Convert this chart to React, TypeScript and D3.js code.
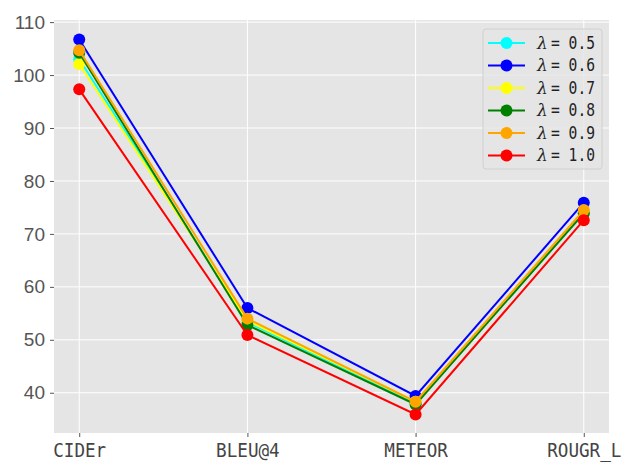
import React, { useEffect, useRef } from "react";
import * as d3 from "d3";

// metrics on the x axis
const metrics = ["CIDEr", "BLEU@4", "METEOR", "ROUGR_L"];

// one list of scores per lambda value
const lambdas = ["0.5", "0.6", "0.7", "0.8", "0.9", "1.0"];
const scores05 = [103.0, 53.3, 38.0, 74.0];
const scores06 = [106.7, 56.0, 39.4, 75.9];
const scores07 = [102.1, 53.6, 38.3, 74.2];
const scores08 = [104.2, 52.8, 37.8, 73.9];
const scores09 = [104.7, 54.0, 38.3, 74.5];
const scores10 = [97.3, 50.9, 35.9, 72.6];
const colors = ["#00ffff", "#0000ff", "#ffff00", "#008000", "#ffa500", "#ff0000"];

const yTicks = [40, 50, 60, 70, 80, 90, 100, 110];

const App = () => {
  const ref = useRef<SVGSVGElement>(null);

  useEffect(() => {
    const series = [scores05, scores06, scores07, scores08, scores09, scores10];
    const W = 627,
      H = 465;
    const margin = { top: 20, right: 18, bottom: 32, left: 54 };
    const width = W - margin.left - margin.right,
      height = H - margin.top - margin.bottom;

    const root = d3.select(ref.current);
    root.selectAll("*").remove();
    root.attr("width", W).attr("height", H);

    const svg = root
      .append("g")
      .attr("transform", `translate(${margin.left},${margin.top})`);

    // background
    svg
      .append("rect")
      .attr("width", width)
      .attr("height", height)
      .attr("fill", "#e5e5e5");

    // matplotlib-like 5% margin on each side
    const pad = (width * 0.05) / 1.1;
    const x = d3.scalePoint<string>().domain(metrics).range([pad, width - pad]);

    const y = d3.scaleLinear().domain([32.4, 110.4]).range([height, 0]);

    // grid
    svg
      .selectAll(".hgrid")
      .data(yTicks)
      .enter()
      .append("line")
      .attr("x1", 0)
      .attr("x2", width)
      .attr("y1", (d) => y(d))
      .attr("y2", (d) => y(d))
      .attr("stroke", "#fff")
      .attr("stroke-width", 1);
    svg
      .selectAll(".vgrid")
      .data(metrics)
      .enter()
      .append("line")
      .attr("x1", (d) => x(d)!)
      .attr("x2", (d) => x(d)!)
      .attr("y1", 0)
      .attr("y2", height)
      .attr("stroke", "#fff")
      .attr("stroke-width", 1);

    // axes
    const mono = "'DejaVu Sans Mono', monospace";
    const yAxis = svg
      .append("g")
      .call(d3.axisLeft(y).tickValues(yTicks).tickSize(4).tickPadding(5));
    yAxis.select(".domain").remove();
    yAxis.selectAll("line").attr("stroke", "#555");
    yAxis
      .selectAll("text")
      .attr("fill", "#555")
      .style("font-family", "'Liberation Sans', Arial, sans-serif")
      .style("font-size", "19px");

    const xAxis = svg
      .append("g")
      .attr("transform", `translate(0,${height})`)
      .call(d3.axisBottom(x).tickSize(4));
    xAxis.select(".domain").remove();
    xAxis.selectAll("line").attr("stroke", "#555");
    xAxis
      .selectAll("text")
      .attr("y", 24)
      .attr("dy", 0)
      .attr("fill", "#444")
      .attr("textLength", (d: any) => d.length * 10.6)
      .attr("lengthAdjust", "spacingAndGlyphs")
      .style("font-family", mono)
      .style("font-size", "19px");

    // lines and markers
    const line = d3
      .line<number>()
      .x((_, i) => x(metrics[i])!)
      .y((d) => y(d));

    series.forEach((s, k) => {
      svg
        .append("path")
        .datum(s)
        .attr("d", line)
        .attr("fill", "none")
        .attr("stroke", colors[k])
        .attr("stroke-width", 2);
      svg
        .selectAll(`.pt${k}`)
        .data(s)
        .enter()
        .append("circle")
        .attr("cx", (_, i) => x(metrics[i])!)
        .attr("cy", (d) => y(d))
        .attr("r", 6)
        .attr("fill", colors[k]);
    });

    // legend
    const lg = svg
      .append("g")
      .attr("transform", `translate(${483 - margin.left},${29 - margin.top})`);
    lg.append("rect")
      .attr("width", 119)
      .attr("height", 140)
      .attr("rx", 3)
      .attr("fill", "#e5e5e5")
      .attr("fill-opacity", 0.8)
      .attr("stroke", "#d0d0d0");
    lambdas.forEach((l, k) => {
      const row = lg.append("g").attr("transform", `translate(0,${14 + k * 22.5})`);
      row
        .append("line")
        .attr("x1", 5)
        .attr("x2", 42)
        .attr("stroke", colors[k])
        .attr("stroke-width", 2);
      row.append("circle").attr("cx", 23.5).attr("r", 6).attr("fill", colors[k]);
      row
        .append("text")
        .attr("x", 54)
        .attr("dy", "0.35em")
        .attr("fill", "#222")
        .style("font-size", "17px")
        .style("font-family", "'DejaVu Serif', serif")
        .style("font-style", "italic")
        .text("λ");
      row
        .append("text")
        .attr("x", 68)
        .attr("dy", "0.35em")
        .attr("fill", "#222")
        .attr("textLength", 44)
        .attr("lengthAdjust", "spacingAndGlyphs")
        .style("font-size", "17px")
        .style("font-family", mono)
        .text(`= ${l}`);
    });
  }, []);

  return (
    <div>
      <svg ref={ref} style={{ position: "absolute", left: 0, top: 0 }}></svg>
    </div>
  );
};

export default App;
